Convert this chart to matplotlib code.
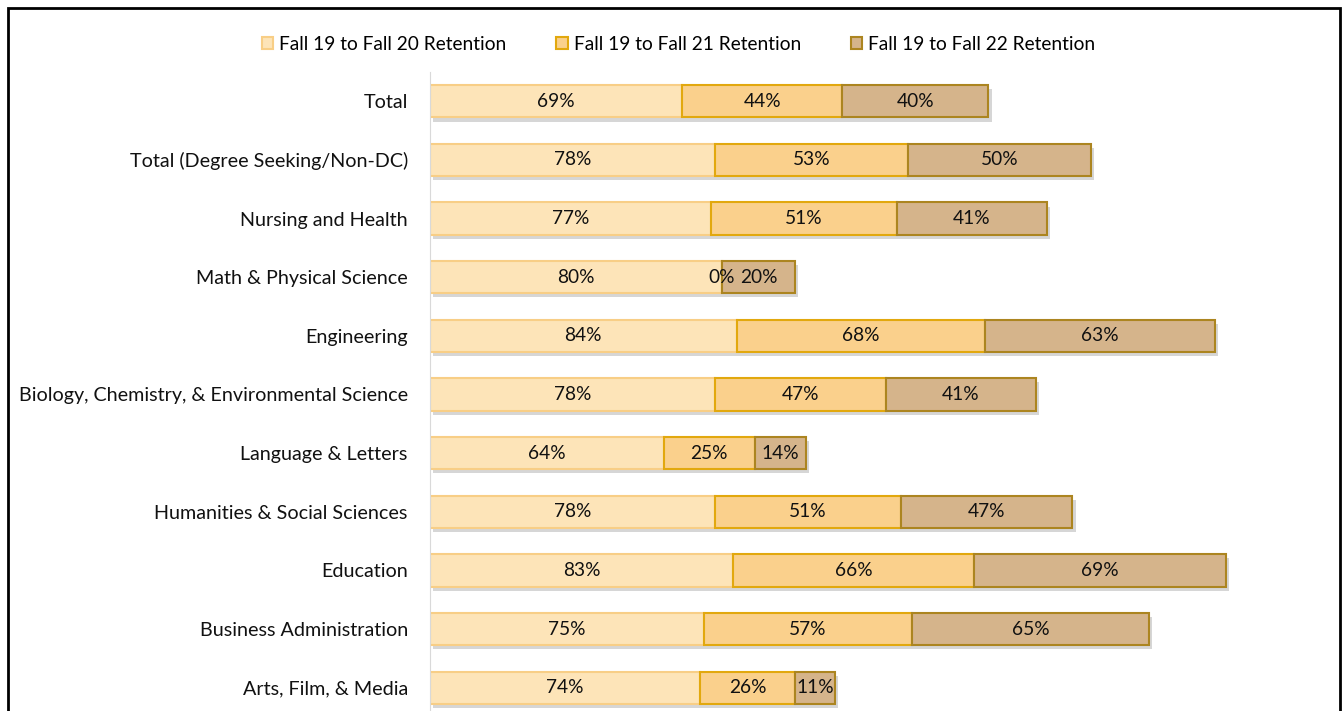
import matplotlib.pyplot as plt
from matplotlib.patches import Rectangle
import numpy as np

plt.rcParams['font.family'] = ['Lato', 'DejaVu Sans']

categorias = ['Total', 'Total (Degree Seeking/Non-DC)', 'Nursing and Health',
              'Math & Physical Science', 'Engineering',
              'Biology, Chemistry, & Environmental Science', 'Language & Letters',
              'Humanities & Social Sciences', 'Education', 'Business Administration',
              'Arts, Film, & Media']
f20 = [69, 78, 77, 80, 84, 78, 64, 78, 83, 75, 74]
f21 = [44, 53, 51, 0, 68, 47, 25, 51, 66, 57, 26]
f22 = [40, 50, 41, 20, 63, 41, 14, 47, 69, 65, 11]
series = ['Fall 19 to Fall 20 Retention', 'Fall 19 to Fall 21 Retention',
          'Fall 19 to Fall 22 Retention']

cores = ['#FDE4B8', '#FAD08C', '#D5B48B']
bordas = ['#F8CE86', '#E2A80E', '#AC8520']

W, H = 1343, 711
fig = plt.figure(figsize=(W / 100, H / 100), dpi=100)
# axes: left edge at x=430px, top at ~72px, runs off the bottom
ax = fig.add_axes([430 / W, -6 / H, 250 * 3.65 / W, (717 - 72) / H])

y = np.arange(len(categorias))
total = np.array(f20) + np.array(f21) + np.array(f22)

# sombra
ax.barh(y + 0.07, total, left=0.9, height=0.55, color='#BBBBBB', alpha=0.6,
        zorder=1, linewidth=0)

esq = np.zeros(len(categorias))
for vals, cor, borda, nome in zip([f20, f21, f22], cores, bordas, series):
    ax.barh(y, vals, left=esq, height=0.55, color=cor, edgecolor=borda,
            linewidth=1.5, label=nome, zorder=2)
    for i, v in enumerate(vals):
        ax.text(esq[i] + v / 2, y[i], f'{v}%', ha='center', va='center',
                fontsize=13.8, color='#111111', zorder=3)
    esq = esq + np.array(vals)

ax.set_xlim(0, 250)
ax.set_ylim(10.5, -0.5)
ax.set_yticks(y)
ax.set_yticklabels(categorias, fontsize=14.2, color='#111111')
ax.tick_params(axis='y', length=0, pad=16)
ax.set_xticks([])
for s in ['top', 'right', 'bottom']:
    ax.spines[s].set_visible(False)
ax.spines['left'].set_color('#D9D9D9')

fig.legend(loc='center', bbox_to_anchor=(0.5 + 7 / W, 1 - 44 / H), ncol=3,
           frameon=False, fontsize=13.8, handlelength=0.6, handleheight=0.6,
           handletextpad=0.3, columnspacing=2.6)

# moldura
fig.patches.append(Rectangle((8 / W, -0.05), (1340 - 8) / W, 1 - 8 / H + 0.05,
                             transform=fig.transFigure, fill=False,
                             edgecolor='black', linewidth=2))

plt.savefig('out.png', dpi=100)
